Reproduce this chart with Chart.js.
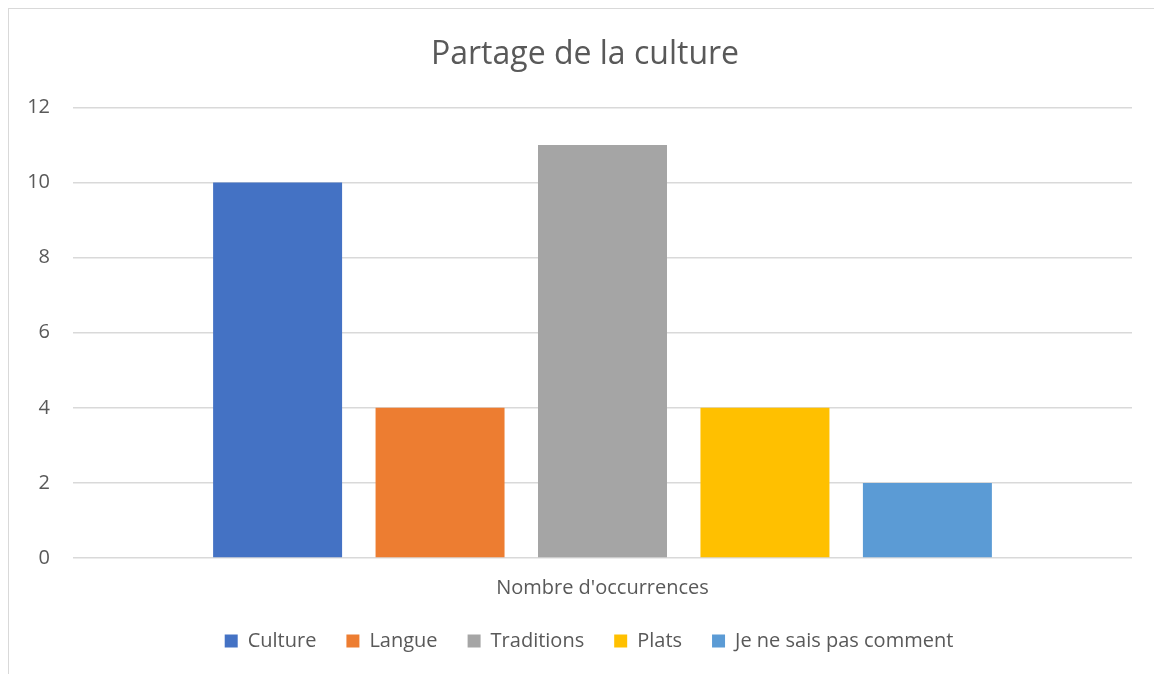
<!DOCTYPE html>
<html>
<head>
<meta charset="utf-8">
<script src="https://cdn.jsdelivr.net/npm/chart.js@4.4.1/dist/chart.umd.min.js"></script>
<style>
  html, body { margin: 0; padding: 0; background: #fff; }
  body { width: 1154px; height: 674px; position: relative; overflow: hidden; }
  #frame { position: absolute; left: 8px; top: 8px; width: 1200px; height: 700px; border: 1.5px solid #d9d9d9; box-sizing: border-box; }
  #wrap { position: absolute; left: 0; top: 0; width: 1154px; height: 674px; }
</style>
</head>
<body>
<div id="frame"></div>
<div id="wrap"><canvas id="myChart"></canvas></div>
<script>
const categories = ["Nombre d'occurrences"]
const seriesNames = ['Culture', 'Langue', 'Traditions', 'Plats', 'Je ne sais pas comment']
const seriesValues = [10, 4, 11, 4, 2]
const seriesColors = ['#4472C4', '#ED7D31', '#A5A5A5', '#FFC000', '#5B9BD5']

const textColor = '#595959'
const fontFamily = '"Open Sans", Lato, sans-serif'

const datasets = seriesNames.map((name, i) => ({
  label: name,
  data: [seriesValues[i]],
  backgroundColor: seriesColors[i],
  borderWidth: 0,
  categoryPercentage: 0.767,
  barPercentage: 0.794
}))

// nudge the title and legend row to the right, like in the excel chart
const boxShift = {
  id: 'boxShift',
  afterLayout(chart) {
    chart.legend.left += 23
    chart.legend.right += 23
    chart.titleBlock.left += 19
    chart.titleBlock.right += 19
  }
}

const ctx = document.getElementById('myChart')
const myChart = new Chart(ctx, {
  type: 'bar',
  data: {
    labels: categories,
    datasets: datasets
  },
  plugins: [boxShift],
  options: {
    responsive: true,
    maintainAspectRatio: false,
    animation: false,
    layout: {
      padding: { left: 0, right: 22, top: 0, bottom: 13 }
    },
    plugins: {
      title: {
        display: true,
        text: 'Partage de la culture',
        color: textColor,
        font: { family: fontFamily, size: 32, weight: 'normal' },
        padding: { top: 36, bottom: 33 }
      },
      legend: {
        position: 'bottom',
        labels: {
          color: textColor,
          font: { family: fontFamily, size: 20 },
          boxWidth: 13,
          boxHeight: 13,
          padding: 30
        }
      },
      tooltip: { enabled: false }
    },
    scales: {
      x: {
        afterFit: (scale) => { scale.height = 43 },
        grid: { display: false, drawTicks: false },
        border: { display: false },
        ticks: {
          color: textColor,
          font: { family: fontFamily, size: 20 },
          padding: 18
        }
      },
      y: {
        min: 0,
        max: 12,
        afterFit: (scale) => { scale.width = 73 },
        grid: { color: '#d9d9d9', lineWidth: 1.5, drawTicks: false },
        border: { display: false },
        ticks: {
          stepSize: 2,
          color: textColor,
          font: { family: fontFamily, size: 20 },
          padding: 23
        }
      }
    }
  }
})
</script>
</body>
</html>
